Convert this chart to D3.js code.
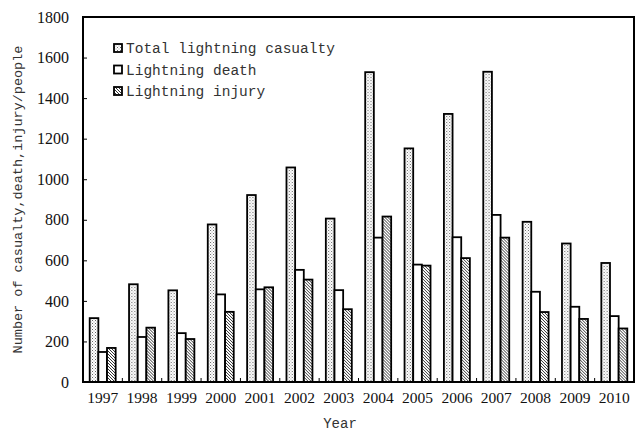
<!DOCTYPE html>
<html>
<head>
<meta charset="utf-8">
<script src="https://cdn.jsdelivr.net/npm/d3@7"></script>
<style>
  body { margin: 0; background: #fff; }
  svg { display: block; }
</style>
</head>
<body>
<div id="chart"></div>
<script>
// data
var years = ["1997", "1998", "1999", "2000", "2001", "2002", "2003", "2004", "2005", "2006", "2007", "2008", "2009", "2010"];
var casualty = [315, 482, 452, 777, 922, 1058, 806, 1528, 1152, 1322, 1530, 790, 683, 587];
var death = [148, 222, 241, 432, 457, 553, 453, 712, 579, 714, 824, 445, 371, 325];
var injury = [168, 268, 212, 346, 467, 505, 359, 816, 574, 611, 712, 345, 311, 264];
var seriesNames = ["Total lightning casualty", "Lightning death", "Lightning injury"];
var yTicks = [0, 200, 400, 600, 800, 1000, 1200, 1400, 1600, 1800];

var W = 636, H = 431;
var margin = { top: 17, right: 2, bottom: 49, left: 83 },
    width = W - margin.left - margin.right,
    height = H - margin.top - margin.bottom;

var svg = d3.select("#chart")
    .append("svg")
    .attr("width", W)
    .attr("height", H);

// fill patterns
var defs = svg.append("defs");
var dots = defs.append("pattern")
    .attr("id", "dots")
    .attr("patternUnits", "userSpaceOnUse")
    .attr("width", 3).attr("height", 3);
dots.append("rect").attr("width", 3).attr("height", 3).attr("fill", "#fff");
dots.append("rect").attr("x", 0).attr("y", 0).attr("width", 1).attr("height", 1).attr("fill", "#666");
dots.append("rect").attr("x", 1.5).attr("y", 1.5).attr("width", 1).attr("height", 1).attr("fill", "#999");

var hatch = defs.append("pattern")
    .attr("id", "hatch")
    .attr("patternUnits", "userSpaceOnUse")
    .attr("width", 3).attr("height", 3);
hatch.append("rect").attr("width", 3).attr("height", 3).attr("fill", "#fff");
hatch.append("path")
    .attr("d", "M-1,-1 L4,4 M-1,2 L1,4 M2,-1 L4,1")
    .attr("stroke", "#333")
    .attr("stroke-width", 1);

var fills = ["url(#dots)", "#fff", "url(#hatch)"];

var g = svg.append("g")
    .attr("transform", "translate(" + margin.left + "," + margin.top + ")");

// scales
var x = d3.scaleBand()
    .domain(years)
    .range([0, width])
    .paddingInner(0)
    .paddingOuter(0);

var x1 = d3.scaleBand()
    .domain(d3.range(3))
    .range([x.bandwidth() * 0.17, x.bandwidth() * 0.83])
    .padding(0);

var y = d3.scaleLinear()
    .domain([0, 1800])
    .range([height, 0]);

var table = years.map(function (yr, i) {
    return { year: yr, values: [casualty[i], death[i], injury[i]] };
});

// bars
var groups = g.selectAll(".grp")
    .data(table)
    .enter()
    .append("g")
    .attr("transform", function (d) { return "translate(" + x(d.year) + ",0)"; });

groups.selectAll("rect")
    .data(function (d) { return d.values; })
    .enter()
    .append("rect")
    .attr("x", function (d, i) { return x1(i); })
    .attr("y", function (d) { return y(d); })
    .attr("width", x1.bandwidth())
    .attr("height", function (d) { return height - y(d); })
    .attr("fill", function (d, i) { return fills[i]; })
    .attr("stroke", "#000")
    .attr("stroke-width", 1.8);

// y axis, ticks pointing inward
var yAxis = g.append("g")
    .call(d3.axisLeft(y).tickValues(yTicks).tickFormat(d3.format("d"))
        .tickSizeInner(-4).tickSizeOuter(0).tickPadding(14));
yAxis.select(".domain").remove();
yAxis.selectAll("line").attr("stroke", "#000").attr("stroke-width", 1);
yAxis.selectAll("text")
    .style("font-family", "'Liberation Serif', 'Times New Roman', serif")
    .style("font-size", "16px")
    .attr("fill", "#111");

// x axis: labels under groups, little ticks between groups
var xAxis = g.append("g")
    .attr("transform", "translate(0," + height + ")")
    .call(d3.axisBottom(x).tickSize(0).tickPadding(10));
xAxis.select(".domain").remove();
xAxis.selectAll("text")
    .style("font-family", "'Liberation Serif', 'Times New Roman', serif")
    .style("font-size", "15.5px")
    .attr("fill", "#111");

g.selectAll(".sep")
    .data(years.slice(1))
    .enter()
    .append("line")
    .attr("x1", function (d) { return x(d); })
    .attr("x2", function (d) { return x(d); })
    .attr("y1", height)
    .attr("y2", height - 4)
    .attr("stroke", "#000")
    .attr("stroke-width", 1);

// frame
g.append("rect")
    .attr("x", 0).attr("y", 0)
    .attr("width", width).attr("height", height)
    .attr("fill", "none")
    .attr("stroke", "#000")
    .attr("stroke-width", 2);

// axis titles
svg.append("text")
    .attr("transform", "translate(22," + (margin.top + height / 2) + ") rotate(-90)")
    .attr("text-anchor", "middle")
    .style("font-family", "'Liberation Mono', 'Courier New', monospace")
    .style("font-size", "13.5px")
    .attr("fill", "#333")
    .text("Number of casualty,death,injury/people");

svg.append("text")
    .attr("x", 340)
    .attr("y", 428)
    .attr("text-anchor", "middle")
    .style("font-family", "'Liberation Mono', 'Courier New', monospace")
    .style("font-size", "14px")
    .attr("fill", "#333")
    .text("Year");

// legend
var legend = svg.append("g")
    .attr("transform", "translate(114,44)");
var size = 8;
legend.selectAll("rect")
    .data(seriesNames)
    .enter()
    .append("rect")
    .attr("x", 0)
    .attr("y", function (d, i) { return i * 21.5; })
    .attr("width", size)
    .attr("height", size)
    .attr("fill", function (d, i) { return fills[i]; })
    .attr("stroke", "#000")
    .attr("stroke-width", 1.8);
legend.selectAll("text")
    .data(seriesNames)
    .enter()
    .append("text")
    .attr("x", size + 4)
    .attr("y", function (d, i) { return i * 21.5 + size / 2; })
    .attr("dy", "0.35em")
    .style("font-family", "'Liberation Mono', 'Courier New', monospace")
    .style("font-size", "14.5px")
    .attr("fill", "#333")
    .text(function (d) { return d; });
</script>
</body>
</html>
